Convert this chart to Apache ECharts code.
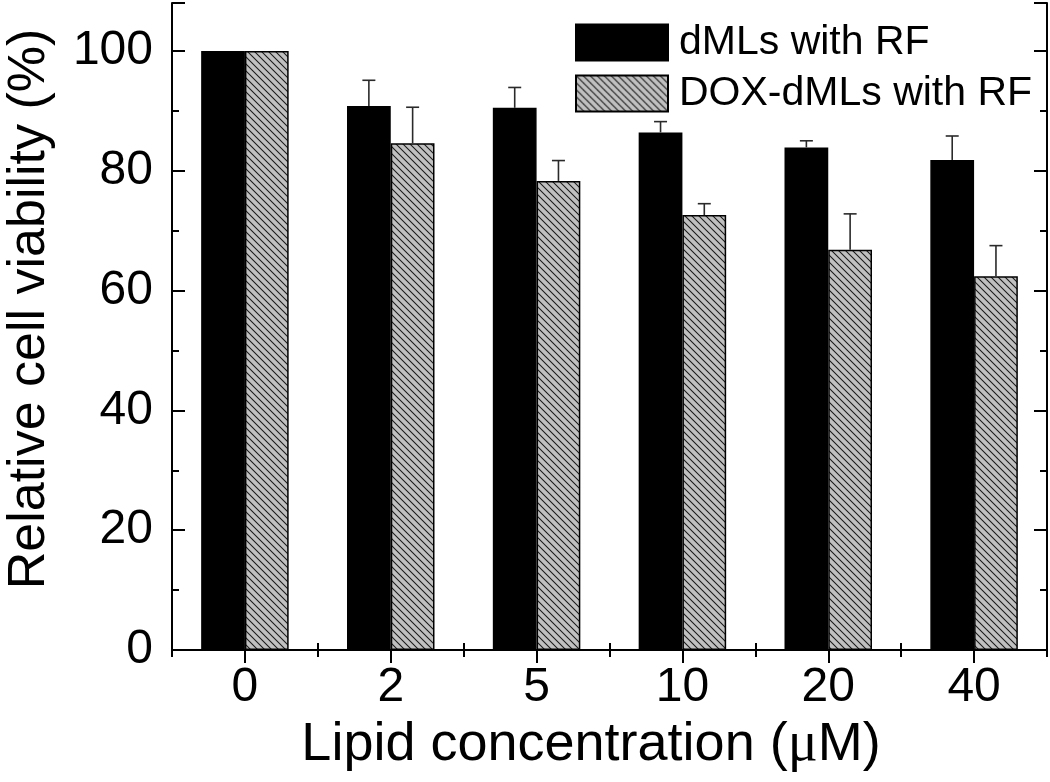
<!DOCTYPE html>
<html>
<head>
<meta charset="utf-8">
<script src="https://cdn.jsdelivr.net/npm/echarts@6/dist/echarts.min.js"></script>
<style>html,body{margin:0;padding:0;background:#fff;}#c{width:1050px;height:782px;}</style>
</head>
<body>
<div id="c"></div>
<script>
const categories = ['0', '2', '5', '10', '20', '40'];
const dmlsMean = [100, 90.8, 90.5, 86.4, 83.9, 81.8];
const dmlsErr = [0, 4.3, 3.4, 1.8, 1.1, 4.0];
const doxMean = [100, 84.6, 78.3, 72.6, 66.8, 62.4];
const doxErr = [0, 6.0, 3.4, 1.9, 6.0, 5.1];
const yTicks = [0, 20, 40, 60, 80, 100];
const seriesNames = ['dMLs with RF', 'DOX-dMLs with RF'];
const xTitle = 'Lipid concentration (';
const yTitle = 'Relative cell viability (%)';

const FONT = '"Liberation Sans", Arial, sans-serif';

function hatch() {
  const s = 7;
  const c = document.createElement('canvas');
  c.width = s; c.height = s;
  const g = c.getContext('2d');
  g.fillStyle = '#c0c0c0';
  g.fillRect(0, 0, s, s);
  g.strokeStyle = '#1a1a1a';
  g.lineWidth = 1.05;
  [[0, 0], [-s, 0], [0, -s]].forEach(([ox, oy]) => {
    g.beginPath();
    g.moveTo(ox - 1, oy - 1);
    g.lineTo(ox + s + 1, oy + s + 1);
    g.stroke();
  });
  return c;
}

function errSeries(means, errs, offFrac) {
  return {
    type: 'custom',
    xAxisIndex: 0, yAxisIndex: 0,
    z: 5,
    data: means.map((m, i) => [i, m, m + errs[i]]),
    renderItem: function (params, api) {
      const i = api.value(0);
      const m = api.value(1), t = api.value(2);
      if (t <= m) return null;
      const bw = api.size([1, 0])[0];
      const pb = api.coord([i, m]);
      const pt = api.coord([i, t]);
      const cx = pb[0] + offFrac * bw;
      const st = { stroke: '#2a2a2a', lineWidth: 1.6 };
      return {
        type: 'group',
        children: [
          { type: 'line', shape: { x1: cx, y1: pb[1], x2: cx, y2: pt[1] }, style: st },
          { type: 'line', shape: { x1: cx - 6.5, y1: pt[1], x2: cx + 6.5, y2: pt[1] }, style: st }
        ]
      };
    }
  };
}

const chart = echarts.init(document.getElementById('c'), null, { renderer: 'canvas' });
const lineStyle = { color: '#000', width: 2 };
const yBase = { type: 'value', min: 0, max: 108, splitLine: { show: false } };

chart.setOption({
  animation: false,
  backgroundColor: '#fff',
  textStyle: { fontFamily: FONT },
  grid: { left: 172, right: 3, top: 3, bottom: 132, containLabel: false },
  legend: {
    data: seriesNames,
    orient: 'vertical',
    left: 575, top: 22, padding: 0,
    icon: 'rect',
    itemWidth: 92, itemHeight: 36, itemGap: 10,
    textStyle: { fontSize: 41, color: '#000', fontFamily: FONT, lineHeight: 37, padding: [0, 0, 0, 6] }
  },
  graphic: [
    {
      type: 'text', x: 30, y: 309, rotation: Math.PI / 2,
      style: { text: yTitle, font: '52px ' + FONT, fill: '#000', align: 'center', verticalAlign: 'middle' }
    },
    {
      type: 'text', x: 591, y: 745,
      style: {
        text: '{a|' + xTitle + '}{m|μ}{a|M)}', fill: '#000', align: 'center', verticalAlign: 'middle',
        rich: {
          a: { fontSize: 54, fontFamily: FONT, fill: '#000' },
          m: { fontSize: 56, fontFamily: '"Liberation Serif", serif', fill: '#000' }
        }
      }
    }
  ],
  xAxis: [
    {
      type: 'category', data: categories, position: 'bottom',
      axisLine: { lineStyle: lineStyle },
      axisTick: { show: true, inside: true, length: 7, interval: 0, lineStyle: lineStyle },
      axisLabel: { fontSize: 48, color: '#000', margin: 14, fontFamily: FONT, interval: 0 }
    },
    {
      type: 'category', data: categories, position: 'top',
      axisLine: { lineStyle: lineStyle },
      axisTick: { show: true, inside: true, length: 13, alignWithLabel: true, interval: 0, lineStyle: lineStyle },
      axisLabel: { show: false }
    },
    {
      type: 'category', data: categories, position: 'top',
      axisLine: { show: false },
      axisTick: { show: true, inside: true, length: 7, interval: 0, lineStyle: lineStyle },
      axisLabel: { show: false }
    }
  ],
  yAxis: [
    Object.assign({}, yBase, {
      position: 'left', interval: 20,
      axisLine: { show: true, lineStyle: lineStyle },
      axisTick: { show: true, inside: true, length: 13, lineStyle: lineStyle },
      axisLabel: {
        fontSize: 48, color: '#000', margin: 19, fontFamily: FONT,
        formatter: v => (yTicks.indexOf(v) >= 0 ? String(v) : '')
      }
    }),
    Object.assign({}, yBase, {
      position: 'left', interval: 10,
      axisLine: { show: false },
      axisTick: { show: true, inside: true, length: 7, lineStyle: lineStyle },
      axisLabel: { show: false }
    }),
    Object.assign({}, yBase, {
      position: 'right', interval: 20,
      axisLine: { show: true, lineStyle: lineStyle },
      axisTick: { show: true, inside: true, length: 13, lineStyle: lineStyle },
      axisLabel: { show: false }
    }),
    Object.assign({}, yBase, {
      position: 'right', interval: 10,
      axisLine: { show: false },
      axisTick: { show: true, inside: true, length: 7, lineStyle: lineStyle },
      axisLabel: { show: false }
    })
  ],
  series: [
    {
      name: seriesNames[0], type: 'bar', xAxisIndex: 0, yAxisIndex: 0,
      data: dmlsMean, barWidth: '30%', barGap: '0%',
      itemStyle: { color: '#000', borderColor: '#000', borderWidth: 1.5 }
    },
    {
      name: seriesNames[1], type: 'bar', xAxisIndex: 0, yAxisIndex: 0,
      data: doxMean, barWidth: '30%', barGap: '0%',
      itemStyle: { color: { image: hatch(), repeat: 'repeat' }, borderColor: '#000', borderWidth: 1.5 }
    },
    errSeries(dmlsMean, dmlsErr, -0.15),
    errSeries(doxMean, doxErr, 0.15)
  ]
});
</script>
</body>
</html>
